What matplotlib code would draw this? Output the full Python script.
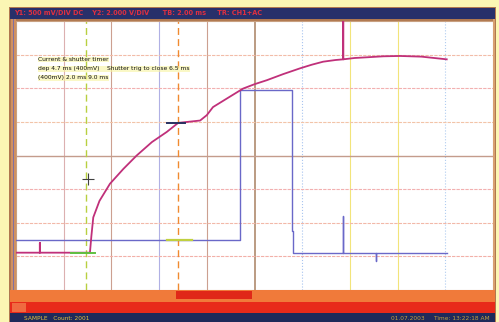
import matplotlib
matplotlib.use("Agg")
import matplotlib.pyplot as plt
from matplotlib.patches import Rectangle

# ---- data (in screen divisions: x 0..10, y 0..8) ----
ch1_x = [0, 0.5, 0.5, 0.5, 1.0, 1.55, 1.58, 1.62, 1.75, 1.97, 2.25, 2.53, 2.85, 3.16,
         3.40, 3.60, 3.86, 4.0, 4.13, 4.45, 4.76, 5.0, 5.26, 5.6, 5.95, 6.2, 6.44, 6.7,
         6.86, 6.86, 6.86, 7.1, 7.35, 7.7, 8.05, 8.5, 9.03]
ch1_y = [1.11, 1.11, 1.40, 1.11, 1.11, 1.11, 1.6, 2.16, 2.65, 3.16, 3.6, 4.0, 4.4, 4.70,
         4.97, 5.0, 5.04, 5.2, 5.44, 5.72, 5.99, 6.12, 6.24, 6.42, 6.59, 6.70, 6.79, 6.84,
         6.86, 8.0, 6.86, 6.90, 6.92, 6.95, 6.96, 6.94, 6.86]
ch2_x = [0, 4.70, 4.70, 5.78, 5.78, 5.81, 5.81, 6.86, 6.86, 6.86, 7.55, 7.55, 7.55, 9.03]
ch2_y = [1.49, 1.49, 5.96, 5.96, 1.76, 1.76, 1.11, 1.11, 2.21, 1.11, 1.11, 0.87, 1.11, 1.11]
cursor_x = [1.47, 3.40]
cross_xy = (1.50, 3.30)
top_text = "Y1: 500 mV/DIV DC    Y2: 2.000 V/DIV      TB: 2.00 ms     TR: CH1+AC"
note_lines = ["Current & shutter timer",
              "dep 4.7 ms (400mV)    Shutter trig to close 6.5 ms",
              "(400mV) 2.0 ms 9.0 ms"]
status_left = "SAMPLE   Count: 2001"
status_right = "01.07.2003     Time: 13:22:18 AM"

W, H = 499, 322
fig = plt.figure(figsize=(W / 100, H / 100), dpi=100)
fig.patch.set_facecolor("#fbf6b4")

def prect(x0, y0, x1, y1, color, z=0):
    # pixel coords with origin top-left
    fig.add_artist(Rectangle((x0 / W, 1 - y1 / H), (x1 - x0) / W, (y1 - y0) / H,
                             transform=fig.transFigure, color=color, zorder=z, lw=0))

# frame
prect(9, 7, 496, 322, "#b07850", 0)
prect(10, 8, 495, 19, "#28306a", 1)
prect(11, 19, 16, 290, "#d09060", 1)
prect(13, 19, 14, 290, "#8070a0", 2)
prect(493, 19, 495, 290, "#d8a070", 1)
prect(10, 290, 495, 302, "#f07a3a", 1)
prect(176, 291, 252, 299, "#e02818", 2)
prect(10, 302, 495, 313, "#e82a1a", 1)
prect(12, 303, 26, 312, "#f06a40", 2)
prect(10, 313, 495, 322, "#1e2a5a", 1)

fig.text(14 / W, 1 - 13.5 / H, top_text, color="#e03040", fontsize=4.7,
         va="center", ha="left", fontweight="bold")
fig.text(24 / W, 1 - 318 / H, status_left, color="#e0c040", fontsize=4.2,
         va="center", ha="left")
fig.text(490 / W, 1 - 318 / H, status_right, color="#c0a040", fontsize=4.2,
         va="center", ha="right")

ax = fig.add_axes([16 / W, 1 - 290 / H, 477 / W, 269 / H])
ax.set_facecolor("white")
ax.set_xlim(0, 10)
ax.set_ylim(0, 8)
ax.set_xticks([])
ax.set_yticks([])
for s in ax.spines.values():
    s.set_color("#c8a080")
    s.set_linewidth(0.8)

vcolors = ["#dcb0b0", "#cca090", "#b0b0e4", "#cca090", "#a88060",
           "#a8c4f0", "#f2e47a", "#f2e47a", "#b0ccf0"]
vstyles = ["-", "-", "-", "-", "-", ":", "-", "-", ":"]
for i in range(1, 10):
    ax.axvline(i, color=vcolors[i - 1], lw=1.1 if i == 5 else 0.8,
               ls=vstyles[i - 1], zorder=1)
hcolors = ["#f2b0a8", "#f2b8a8", "#f2b0b0", "#c49c8c", "#f2c4a8", "#f2b0b0", "#f2bca8"]
for j in range(1, 8):
    ax.axhline(j, color=hcolors[j - 1], lw=1.0 if j == 4 else 0.8,
               ls="-" if j == 4 else (0, (3, 1)), zorder=1)

ax.axvline(cursor_x[0], color="#b8d040", lw=1.0, ls=(0, (5, 3)), zorder=2)
ax.axvline(cursor_x[1], color="#f08a30", lw=1.0, ls=(0, (5, 3)), zorder=2)

ax.plot(ch2_x, ch2_y, color="#6a68c8", lw=1.0, zorder=3)
ax.plot(ch1_x, ch1_y, color="#c0307a", lw=1.3, zorder=4)

# cursor markers on traces
ax.plot([1.15, 1.65], [1.11, 1.11], color="#60c040", lw=1.4, zorder=5)
ax.plot([3.16, 3.70], [1.49, 1.49], color="#c0d040", lw=1.6, zorder=5)
ax.plot([3.16, 3.55], [4.97, 4.97], color="#283060", lw=1.4, zorder=5)
ax.plot(*cross_xy, marker="+", color="#404040", ms=8, mew=0.8, zorder=6)

for k, line in enumerate(note_lines):
    ax.text(0.46, 6.85 - 0.27 * k, line, fontsize=4.3, color="#101010",
            ha="left", va="center", zorder=7,
            bbox=dict(facecolor="#f8f4a0", edgecolor="none", pad=0.2, alpha=0.6))

fig.savefig("out.png", dpi=100, facecolor=fig.get_facecolor())
